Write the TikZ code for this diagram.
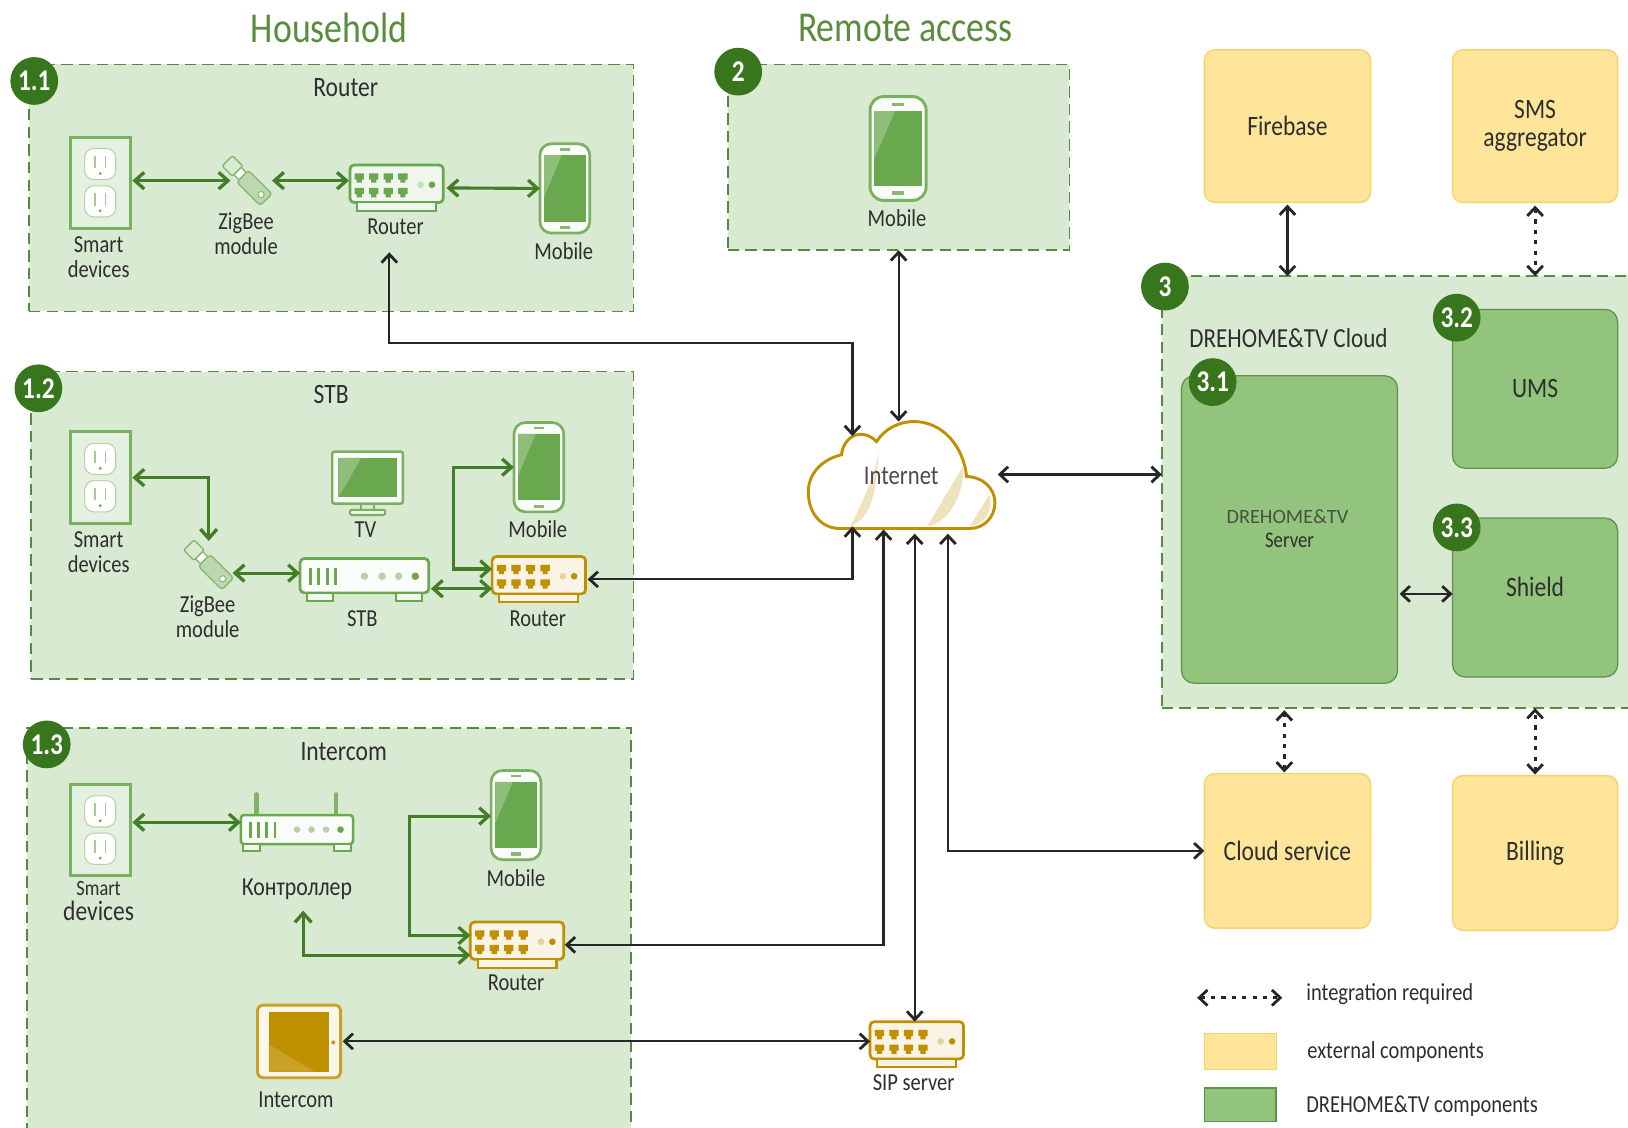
\documentclass[tikz,border=0pt]{standalone}
\usepackage{fontspec}
\setmainfont[FakeStretch=0.84]{Carlito}
\newfontfamily\widefont{Carlito}
\usepackage{tikz}
\usetikzlibrary{arrows.meta}
\definecolor{panelfill}{HTML}{D9EAD3}
\definecolor{darkgreen}{HTML}{38761D}
\definecolor{midgreen}{HTML}{93C47D}
\definecolor{icongreen}{HTML}{6AA84F}
\definecolor{paleyellow}{HTML}{FFE599}
\definecolor{yellowline}{HTML}{F6D36B}
\definecolor{icongold}{HTML}{BF9000}
\definecolor{titlegreen}{HTML}{5B8C3E}
\definecolor{textgrey}{HTML}{2E2E2E}
\tikzset{
  panel/.style={draw=darkgreen!85,fill=panelfill,line width=1.5pt,dash pattern=on 11pt off 6pt,inner sep=0pt,outer sep=0pt},
  badge/.style={circle,fill=darkgreen,text=white,minimum size=46pt,inner sep=0pt,font=\fontsize{29}{30}\selectfont\bfseries},
  extbox/.style={draw=yellowline,fill=paleyellow,line width=1.4pt,rounded corners=10pt,inner sep=0pt,outer sep=0pt,text=textgrey,align=center,font=\fontsize{27}{27}\selectfont},
  ownbox/.style={draw=darkgreen!80,fill=midgreen,line width=1.2pt,rounded corners=12pt,inner sep=0pt,outer sep=0pt,text=textgrey,align=center,font=\fontsize{27}{27}\selectfont},
  lbl/.style={text=textgrey,align=center,inner sep=0pt,font=\fontsize{23.5}{24}\selectfont},
  zonelbl/.style={lbl,font=\fontsize{27}{28}\selectfont},
  icon/.style={inner sep=0pt,outer sep=0pt},
  title/.style={text=titlegreen,inner sep=0pt,font=\fontsize{41}{42}\selectfont},
  gedge/.style={darkgreen!95,line width=3pt,>={Straight Barb[length=9pt,width=16pt,line width=3.2pt]},<->},
  bedge/.style={black!85,line width=2.1pt,>={Straight Barb[length=8pt,width=15pt,line width=2.7pt]},<->},
  dedge/.style={black!85,line width=3pt,>={Straight Barb[length=8pt,width=15pt,line width=2.7pt]},<->,dash pattern=on 4pt off 6pt},
  pics/outlet/.style={code={
    \draw[icongreen!90,line width=2.8pt,fill=panelfill!70] (-29,-44) rectangle (29,44);
    \foreach \y in {-18,18} {
      \draw[icongreen!50,fill=white,line width=1pt,rounded corners=9pt] (-15,\y-15) rectangle (15,\y+15);
      \draw[icongreen!60,line width=1.4pt] (-5,\y-8) -- (-5,\y+4) (5,\y-8) -- (5,\y+4);
      \fill[icongreen] (0,\y+9) circle (1.5pt);
    }
  }},
  pics/dongle/.style={code={
    \begin{scope}[rotate=-45]
    \draw[icongreen!80,fill=panelfill,line width=1.4pt,rounded corners=2pt] (-27,-7) rectangle (-13,7);
    \draw[icongreen!80,fill=white,line width=1.4pt] (-13,-5) rectangle (-6,5);
    \draw[icongreen!80,fill=icongreen!45,line width=1.4pt,rounded corners=3pt] (-6,-8) rectangle (26,8);
    \draw[icongreen!80,fill=white,line width=1pt] (19,0) circle (3pt);
    \end{scope}
  }},
  pics/router/.style={code={
    \draw[#1,fill=#1!10,line width=2.6pt,rounded corners=4pt] (-45,-22) rectangle (45,14);
    \draw[#1,fill=#1!10,line width=2pt] (-38,14) rectangle (38,22);
    \foreach \x in {-36,-22,-8,6} {
      \foreach \y in {-10,4} {
        \fill[#1] (\x-4.5,\y-4) rectangle (\x+4.5,\y+2) (\x-2.5,\y+2) rectangle (\x+2.5,\y+5);
      }
    }
    \fill[#1!40] (23,-3) circle (3.2pt);
    \fill[#1] (34,-3) circle (3.2pt);
  }},
  pics/stb/.style={code={
    \draw[icongreen,fill=white!85!panelfill,line width=2.6pt,rounded corners=4pt] (-62,-20) rectangle (62,13);
    \draw[icongreen,fill=white!60!panelfill,line width=2pt] (-55,13) rectangle (-30,21) (30,13) rectangle (55,21);
    \foreach \x in {-52,-44,-36,-28} {\draw[icongreen,line width=2.8pt] (\x,-11) -- (\x,5);}
    \foreach \x in {0,17,33} {\fill[icongreen!50] (\x,-3) circle (3.6pt);}
    \fill[icongreen] (49,-3) circle (3.6pt);
  }},
  pics/ctrl/.style={code={
    \draw[icongreen!85,line width=4pt,line cap=round] (-39,-34) -- (-39,-12) (38,-34) -- (38,-12);
    \draw[icongreen,fill=white!85!panelfill,line width=2.4pt,rounded corners=3pt] (-54,-14) rectangle (54,14);
    \draw[icongreen,fill=white!60!panelfill,line width=2pt] (-52,14) rectangle (-36,21) (36,14) rectangle (52,21);
    \foreach \x in {-45,-37,-29,-21} {\draw[icongreen,line width=2.6pt] (\x,-7) -- (\x,8);}
    \foreach \x in {0,14,28} {\fill[icongreen!50] (\x,0) circle (3.2pt);}
    \fill[icongreen] (42,0) circle (3.2pt);
  }},
  pics/tvset/.style={code={
    \draw[icongreen!90,fill=white!85!panelfill,line width=2.4pt,rounded corners=2pt] (-34,-30) rectangle (34,20);
    \fill[icongreen] (-28,-24) rectangle (28,14);
    \fill[icongreen!75] (-28,-24) -- (-6,-24) -- (-28,14) -- cycle;
    \draw[icongreen!90,line width=2pt] (-6,20) -- (-6,26) (6,20) -- (6,26);
    \draw[icongreen!90,fill=white!60!panelfill,line width=2pt,rounded corners=2pt] (-17,26) rectangle (17,31);
  }},
  pics/mobile/.style={code={
    \draw[icongreen!90,fill=white!85!panelfill,line width=2.6pt,rounded corners=11pt] (-24,-43) rectangle (24,43);
    \fill[icongreen] (-20,-32) rectangle (20,32);
    \fill[icongreen!75] (-20,-32) -- (-3,-32) -- (-20,8) -- cycle;
    \fill[icongreen!80] (-5,-39) rectangle (5,-36.5);
    \fill[icongreen!80] (-5,36) rectangle (5,39.5);
  }},
  pics/bigmobile/.style={code={
    \draw[icongreen!90,fill=white!85!panelfill,line width=2.8pt,rounded corners=13pt] (-27,-50) rectangle (27,50);
    \fill[icongreen] (-23,-36) rectangle (23,36);
    \fill[icongreen!75] (-23,-36) -- (-3,-36) -- (-23,10) -- cycle;
    \fill[icongreen!80] (-6,-44) rectangle (6,-41);
    \fill[icongreen!80] (-6,41) rectangle (6,45);
  }},
  pics/tablet/.style={code={
    \draw[icongold!85,fill=icongold!8,line width=2.8pt,rounded corners=5pt] (-40,-35) rectangle (40,35);
    \fill[icongold] (-29,-28) rectangle (29,29);
    \fill[icongold!85] (-29,3) -- (15,29) -- (-29,29) -- cycle;
    \fill[icongold!90] (33,1) circle (2pt);
  }},
}
\begin{document}
\begin{tikzpicture}[x=1pt,y=-1pt]
\clip (0,0) rectangle (1568,1086);
\fill[white] (0,0) rectangle (1568,1086);
% zones
\node[title] (tHouse) at (317,27) {Household};
\node[title] (tRemote) at (872,27) {Remote access};
\node[panel,minimum width=582pt,minimum height=238pt] (pA) at (319,181) {};
\node[panel,minimum width=580pt,minimum height=296pt] (pB) at (320,506) {};
\node[panel,minimum width=582pt,minimum height=410pt] (pC) at (317,906) {};
\node[panel,minimum width=329pt,minimum height=179pt] (pD) at (865.5,151.5) {};
\node[panel,minimum width=500pt,minimum height=416pt] (pE) at (1369,474) {};
\node[zonelbl] (tA) at (333,84) {Router};
\node[zonelbl] (tB) at (319,380) {STB};
\node[zonelbl] (tC) at (331,724) {Intercom};
\node[lbl,font=\fontsize{26.5}{27}\selectfont] (tE) at (1241,326) {DREHOME\&TV Cloud};

% 1.1
\node[icon,minimum width=58pt,minimum height=88pt] (ssA) at (96.5,176) {};
\pic at (ssA) {outlet};
\node[icon,minimum width=46pt,minimum height=46pt] (zbA) at (238,174) {};
\pic at (zbA) {dongle};
\node[icon,minimum width=90pt,minimum height=44pt] (rtA) at (382,181) {};
\pic at (rtA) {router=icongreen};
\node[icon,minimum width=48pt,minimum height=86pt] (moA) at (544,181.5) {};
\pic at (moA) {mobile};
\node[lbl] (lsA) at (95,248) {Smart\\devices};
\node[lbl] (lzA) at (237,225) {ZigBee\\module};
\node[lbl] (lrA) at (381,218) {Router};
\node[lbl] (lmA) at (543,242) {Mobile};

% 1.2
\node[icon,minimum width=58pt,minimum height=88pt] (ssB) at (96.5,460) {};
\pic at (ssB) {outlet};
\node[icon,minimum width=46pt,minimum height=46pt] (zbB) at (201,544) {};
\pic at (zbB) {dongle};
\node[icon,minimum width=124pt,minimum height=42pt] (stB) at (351,558) {};
\pic at (stB) {stb};
\node[icon,minimum width=68pt,minimum height=62pt] (tvB) at (354,465) {};
\pic at (tvB) {tvset};
\node[icon,minimum width=90pt,minimum height=44pt] (rtB) at (519,558) {};
\pic at (rtB) {router=icongold};
\node[icon,minimum width=48pt,minimum height=86pt] (moB) at (519,450) {};
\pic at (moB) {mobile};
\node[lbl] (lsB) at (95,532) {Smart\\devices};
\node[lbl] (lzB) at (200,594) {ZigBee\\module};
\node[lbl] (ltB) at (352,510) {TV};
\node[lbl] (lbB) at (349,596) {STB};
\node[lbl] (lmB) at (518,510) {Mobile};
\node[lbl] (lrB) at (518,596) {Router};

% 1.3
\node[icon,minimum width=58pt,minimum height=88pt] (ssC) at (96.5,799.5) {};
\pic at (ssC) {outlet};
\node[icon,minimum width=108pt,minimum height=56pt] (ctC) at (286,799) {};
\pic at (ctC) {ctrl};
\node[icon,minimum width=48pt,minimum height=86pt] (moC) at (497,785) {};
\pic at (moC) {mobile};
\node[icon,minimum width=90pt,minimum height=44pt] (rtC) at (498,910) {};
\pic at (rtC) {router=icongold};
\node[icon,minimum width=80pt,minimum height=70pt] (icC) at (288,1003) {};
\pic at (icC) {tablet};
\node[lbl,align=center,font=\fontsize{27}{24}\selectfont] (lsC) at (95,868) {{\fontsize{21}{22}\selectfont Smart}\\devices};
\node[lbl,font=\fontsize{25}{26}\selectfont] (lcC) at (286,856) {Контроллер};
\node[lbl] (lmC) at (497,846) {Mobile};
\node[lbl] (lrC) at (497,947) {Router};
\node[lbl] (liC) at (285,1059) {Intercom};

% 2
\node[icon,minimum width=54pt,minimum height=100pt] (moD) at (865,143) {};
\pic at (moD) {bigmobile};
\node[lbl] (lmD) at (864,210) {Mobile};

% internet
\draw[icongold,line width=2.8pt,fill=white] (809,509) .. controls (790,509) and (778.5,493) .. (778.5,474)
  .. controls (778.5,455) and (793,442) .. (810.6,438) .. controls (811,428) and (819,418.3) .. (829,418.3)
  .. controls (835,418.3) and (840,421) .. (844.3,425.3) .. controls (852,413) and (866,406) .. (880,406)
  .. controls (908,406) and (928,430) .. (931,459) .. controls (946,459) and (958.2,470) .. (958.2,484)
  .. controls (958.2,499) and (947,509) .. (934,509) -- cycle;
\fill[icongold!25] (847,432) .. controls (843,455) and (847,495) .. (819,507) .. controls (830,485) and (842,460) .. (847,432) -- cycle;
\fill[icongold!25] (927.5,449) .. controls (929,475) and (915,503) .. (893,507) -- cycle;
\fill[icongold!25] (953,476) .. controls (957,490) and (950,505) .. (934,507) -- cycle;
\node[inner sep=0pt,outer sep=0pt,minimum width=180pt,minimum height=104pt,text=black!70,font=\fontsize{26}{27}\selectfont] (net) at (868,458) {Internet};

% sip
\node[icon,minimum width=90pt,minimum height=44pt] (sip) at (883,1006) {};
\pic at (sip) {router=icongold};
\node[lbl] (lsip) at (880,1043) {SIP server};

% boxes
\node[extbox,minimum width=160pt,minimum height=147pt] (fb) at (1240,121.5) {Firebase};
\node[extbox,minimum width=159pt,minimum height=147pt] (sms) at (1478.5,121.5) {SMS\\aggregator};
\node[ownbox,minimum width=208pt,minimum height=296pt] (srv) at (1242,510) {};
\node[text=textgrey,opacity=.75,inner sep=0pt,font=\widefont\fontsize{19.5}{20}\selectfont] (srvA) at (1240,498) {DREHOME\&TV};
\node[text=textgrey,inner sep=0pt,font=\fontsize{21.5}{22}\selectfont] (srvB) at (1242,520) {Server};
\node[ownbox,minimum width=159pt,minimum height=153pt] (ums) at (1478.5,374.5) {UMS};
\node[ownbox,minimum width=159pt,minimum height=153pt] (shd) at (1478.5,575.5) {};
\node[text=textgrey,inner sep=0pt,font=\fontsize{27}{29}\selectfont] (shdT) at (1478.5,565) {Shield};
\node[extbox,minimum width=160pt,minimum height=149pt] (cs) at (1240,819.5) {Cloud service};
\node[extbox,minimum width=159pt,minimum height=149pt] (bil) at (1478.5,821.5) {Billing};

% legend
\coordinate (lgL) at (1153,961);
\coordinate (lgR) at (1235,961);
\draw[dedge] (lgL) -- (lgR);
\node[draw=yellowline,fill=paleyellow,minimum width=69pt,minimum height=35pt,inner sep=0pt] (lgY) at (1194.5,1012.5) {};
\node[draw=darkgreen!80,fill=midgreen,line width=1.2pt,minimum width=69pt,minimum height=32pt,inner sep=0pt] (lgG) at (1194.5,1064) {};
\node[lbl,anchor=west,font=\fontsize{23.5}{24}\selectfont] (lgTa) at (1258,957) {integration required};
\node[lbl,anchor=west,font=\fontsize{23.5}{24}\selectfont] (lgTb) at (1259,1013) {external components};
\node[lbl,anchor=west,font=\fontsize{23.5}{24}\selectfont] (lgTc) at (1258,1065) {DREHOME\&TV components};

% green links
\coordinate (ctIn) at (292,877);
\draw[gedge] (ssA.east |- zbA) ++(2,0) -- ([xshift=7pt]zbA.west);
\draw[gedge] ([xshift=1pt]zbA.east) -- ++(74,0);
\draw[gedge] (rtA.east) ++(3,0) -- (moA.west);
\draw[gedge] (ssB.east) ++(2,0) -| (zbB.north);
\draw[gedge] ([yshift=-8pt]zbB.east) -- ([yshift=6pt]stB.west);
\draw[gedge] ([xshift=2pt,yshift=-9pt]stB.east) -- ([yshift=-9pt]rtB.west);
\draw[gedge] ([yshift=10pt]rtB.west) -- ++(-37,0) |- (moB.west);
\draw[gedge] (ssC.east |- ctC) ++(2,-7) -- ([yshift=7pt]ctC.west);
\draw[gedge] ([yshift=9pt]rtC.west) -- ++(-59,0) |- ([yshift=-1pt]moC.west);
\draw[gedge] ([yshift=-10pt]rtC.west) -| (ctIn);

% black links
\coordinate (inA) at (821,420);
\coordinate (inB) at (821,507);
\coordinate (inC) at (851,510);
\coordinate (inD) at (881,514);
\coordinate (inE) at (913,514);
\coordinate (rtAin) at (375,243);
\draw[bedge] (rtAin) |- (600,330) -| (inA);
\draw[bedge] (pD.south) -- (pD.south |- net.north);
\draw[bedge] ([xshift=3pt,yshift=1pt]net.east) -- ([yshift=1pt]pE.west |- net);
\draw[bedge] ([xshift=2pt]rtB.east) -| (inB);
\draw[bedge] ([xshift=1pt]rtC.east) -| (inC);
\draw[bedge] (inD) -- (inD |- sip.north);
\draw[bedge] (inE) |- (cs.west);
\draw[bedge] ([xshift=2pt]icC.east) -- (sip.west |- icC);
\draw[bedge] ([yshift=-2pt]fb.south) -- (fb.south |- pE.north);
\draw[bedge] ([xshift=2pt,yshift=-62pt]srv.east) -- (shd.west |- 0,572);
\draw[dedge] ([yshift=-3pt]sms.south) -- (sms.south |- pE.north);
\draw[dedge] (cs.north -| 1237,0) ++(0,-1) -- (1237,684);
\draw[dedge] (bil.north) ++(0,-1) -- (bil.north |- pE.south);

% badges
\node[badge] (bA) at (33,78) {1.1};
\node[badge] (bB) at (37,374) {1.2};
\node[badge] (bC) at (45,717) {1.3};
\node[badge] (bD) at (711,69) {2};
\node[badge] (bE) at (1122,276) {3};
\node[badge] (bF) at (1168,368) {3.1};
\node[badge] (bG) at (1403,306) {3.2};
\node[badge] (bH) at (1403,508) {3.3};
\end{tikzpicture}
\end{document}
